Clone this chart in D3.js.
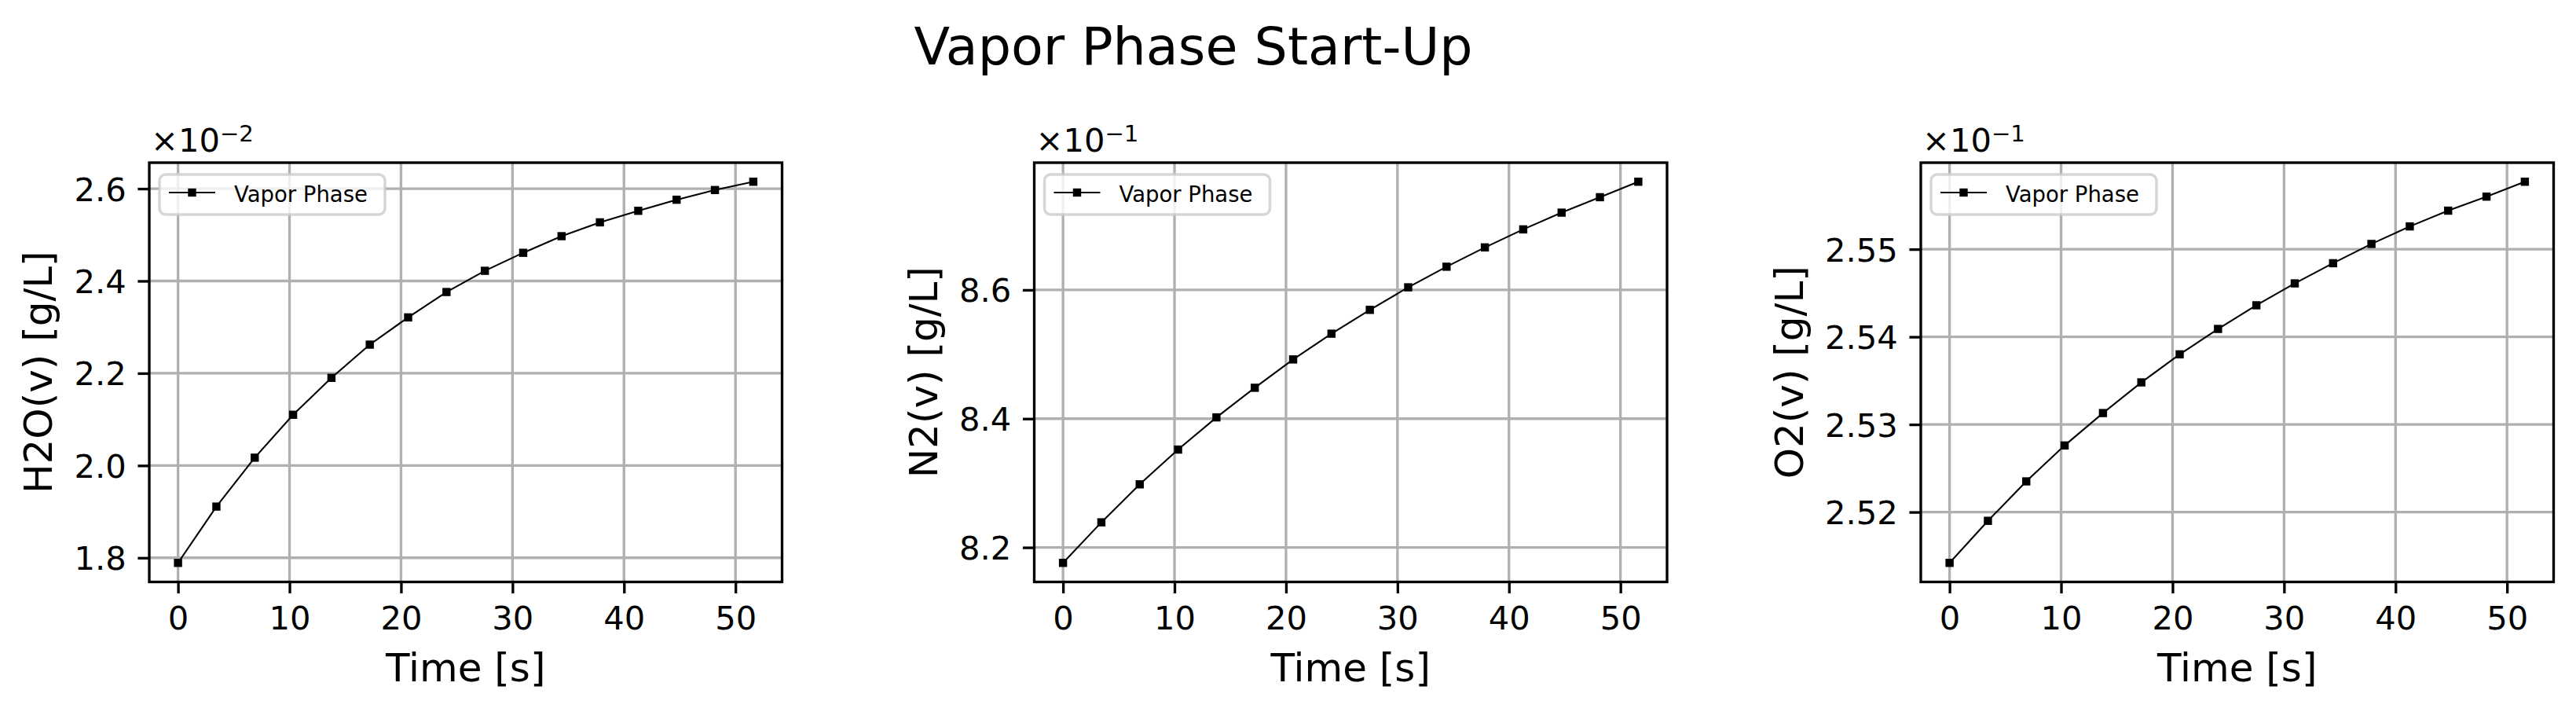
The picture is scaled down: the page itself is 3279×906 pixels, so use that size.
<!DOCTYPE html>
<html>
<head>
<meta charset="utf-8">
<script src="https://cdn.jsdelivr.net/npm/d3@7"></script>
<style>
body { margin: 0; background: #fff; }
text { font-family: "DejaVu Sans", sans-serif; fill: #000; }
</style>
</head>
<body>
<div id="chart"></div>
<script>
// time points [s]
var timeS = [0, 3.44, 6.88, 10.32, 13.76, 17.2, 20.64, 24.08, 27.52, 30.96, 34.4, 37.84, 41.28, 44.72, 48.16, 51.6];

// vapor phase concentrations [g/L]
var h2oVapor = [0.01789, 0.01911, 0.02017, 0.02110, 0.02190, 0.02262, 0.02321, 0.02376, 0.02422, 0.02461, 0.02497, 0.02527, 0.02552, 0.02576, 0.02597, 0.02615];
var n2Vapor = [0.8176, 0.8239, 0.8298, 0.8352, 0.8402, 0.8448, 0.8492, 0.8532, 0.8569, 0.8604, 0.8636, 0.8666, 0.8694, 0.8720, 0.8744, 0.8768];
var o2Vapor = [0.25142, 0.25190, 0.25235, 0.25276, 0.25313, 0.25348, 0.25380, 0.25409, 0.25436, 0.25461, 0.25484, 0.25506, 0.25526, 0.25544, 0.25560, 0.25577];

// tick values
var xTicks = [0, 10, 20, 30, 40, 50];
var h2oTicks = [0.018, 0.020, 0.022, 0.024, 0.026];
var n2Ticks = [0.82, 0.84, 0.86];
var o2Ticks = [0.252, 0.253, 0.254, 0.255];

var panels = [
	{ylabel: "H2O(v) [g/L]", values: h2oVapor, ticks: h2oTicks, exp: -2, digits: 1},
	{ylabel: "N2(v) [g/L]", values: n2Vapor, ticks: n2Ticks, exp: -1, digits: 1},
	{ylabel: "O2(v) [g/L]", values: o2Vapor, ticks: o2Ticks, exp: -1, digits: 2}
];

var W = 3279, H = 906;
var pt = 300 / 72; // px per point
var lefts = [190, 1316.5, 2445];
var pw = 805.5, axTop = 207, ph = 533.5;
var tickLen = 3.5 * pt, tickPad = 3.5 * pt;

var svg = d3.select("#chart")
	.append("svg")
	.attr("width", W)
	.attr("height", H);

// title
svg.append("text")
	.attr("x", 1519)
	.attr("y", 82)
	.attr("text-anchor", "middle")
	.style("font-size", (16 * pt) + "px")
	.text("Vapor Phase Start-Up");

// matplotlib-like 5% margins
function padded(ext) {
	var r = ext[1] - ext[0];
	return [ext[0] - 0.05 * r, ext[1] + 0.05 * r];
}

panels.forEach(function(p, i) {
	var g = svg.append("g")
		.attr("transform", "translate(" + lefts[i] + "," + axTop + ")");

	var xScale = d3.scaleLinear()
		.domain(padded(d3.extent(timeS)))
		.range([0, pw]);
	var yScale = d3.scaleLinear()
		.domain(padded(d3.extent(p.values)))
		.range([ph, 0]);

	// grid
	g.append("g").selectAll("line.vx")
		.data(xTicks)
		.enter()
		.append("line")
		.attr("x1", function(d) { return xScale(d); })
		.attr("x2", function(d) { return xScale(d); })
		.attr("y1", 0)
		.attr("y2", ph)
		.attr("stroke", "#b0b0b0")
		.attr("stroke-width", 0.8 * pt);
	g.append("g").selectAll("line.hy")
		.data(p.ticks)
		.enter()
		.append("line")
		.attr("x1", 0)
		.attr("x2", pw)
		.attr("y1", function(d) { return yScale(d); })
		.attr("y2", function(d) { return yScale(d); })
		.attr("stroke", "#b0b0b0")
		.attr("stroke-width", 0.8 * pt);

	// data line + square markers
	var line = d3.line()
		.x(function(d, j) { return xScale(timeS[j]); })
		.y(function(d) { return yScale(d); });
	g.append("path")
		.datum(p.values)
		.attr("d", line)
		.attr("fill", "none")
		.attr("stroke", "#000")
		.attr("stroke-width", 0.5 * pt);
	var ms = 2.5 * pt;
	g.append("g").selectAll("rect")
		.data(p.values)
		.enter()
		.append("rect")
		.attr("x", function(d, j) { return xScale(timeS[j]) - ms / 2; })
		.attr("y", function(d) { return yScale(d) - ms / 2; })
		.attr("width", ms)
		.attr("height", ms)
		.attr("fill", "#000");

	// axes
	var xAxis = d3.axisBottom(xScale)
		.tickValues(xTicks)
		.tickSize(tickLen)
		.tickPadding(tickPad)
		.tickFormat(d3.format("d"));
	var gx = g.append("g")
		.attr("transform", "translate(0," + ph + ")")
		.call(xAxis);

	var scaleF = Math.pow(10, -p.exp);
	var yAxis = d3.axisLeft(yScale)
		.tickValues(p.ticks)
		.tickSize(tickLen)
		.tickPadding(tickPad)
		.tickFormat(function(d) { return (d * scaleF).toFixed(p.digits); });
	var gy = g.append("g").call(yAxis);

	[gx, gy].forEach(function(a) {
		a.select(".domain").remove();
		a.selectAll(".tick line").attr("stroke", "#000").attr("stroke-width", 0.8 * pt);
		a.selectAll(".tick text")
			.style("font-family", "DejaVu Sans")
			.style("font-size", (10 * pt) + "px")
			.attr("fill", "#000");
	});
	gx.selectAll(".tick text").attr("dy", "0.76em");
	gy.selectAll(".tick text").attr("dy", "0.36em");

	// frame
	g.append("rect")
		.attr("width", pw)
		.attr("height", ph)
		.attr("fill", "none")
		.attr("stroke", "#000")
		.attr("stroke-width", 0.8 * pt);

	// offset text
	var off = g.append("text")
		.attr("x", 2)
		.attr("y", -14)
		.style("font-size", (10 * pt) + "px");
	off.append("tspan").text("\u00d710");
	off.append("tspan")
		.attr("dy", -13)
		.style("font-size", (7 * pt) + "px")
		.text("\u2212" + (-p.exp));

	// x label
	g.append("text")
		.attr("x", pw / 2)
		.attr("y", ph + 126)
		.attr("text-anchor", "middle")
		.style("font-size", (12 * pt) + "px")
		.text("Time [s]");

	// y label, placed left of the widest tick label
	var maxW = 0;
	gy.selectAll(".tick text").each(function() {
		maxW = Math.max(maxW, this.getComputedTextLength());
	});
	var lx = -(tickLen + tickPad + maxW + 4 * pt + 0.236 * 12 * pt);
	g.append("text")
		.attr("transform", "translate(" + lx + "," + (ph / 2) + ") rotate(-90)")
		.attr("text-anchor", "middle")
		.style("font-size", (12 * pt) + "px")
		.text(p.ylabel);

	// legend
	var lg = g.append("g").attr("transform", "translate(13,15)");
	lg.append("rect")
		.attr("width", 287)
		.attr("height", 51)
		.attr("rx", 8)
		.attr("fill", "#fff")
		.attr("fill-opacity", 0.8)
		.attr("stroke", "#cccccc")
		.attr("stroke-opacity", 0.8)
		.attr("stroke-width", 3.5);
	lg.append("line")
		.attr("x1", 12)
		.attr("x2", 71)
		.attr("y1", 23)
		.attr("y2", 23)
		.attr("stroke", "#000")
		.attr("stroke-width", 0.5 * pt);
	lg.append("rect")
		.attr("x", 41.5 - ms / 2)
		.attr("y", 23 - ms / 2)
		.attr("width", ms)
		.attr("height", ms)
		.attr("fill", "#000");
	lg.append("text")
		.attr("x", 95)
		.attr("y", 35)
		.style("font-size", "27.5px")
		.text("Vapor Phase");
});
</script>
</body>
</html>
